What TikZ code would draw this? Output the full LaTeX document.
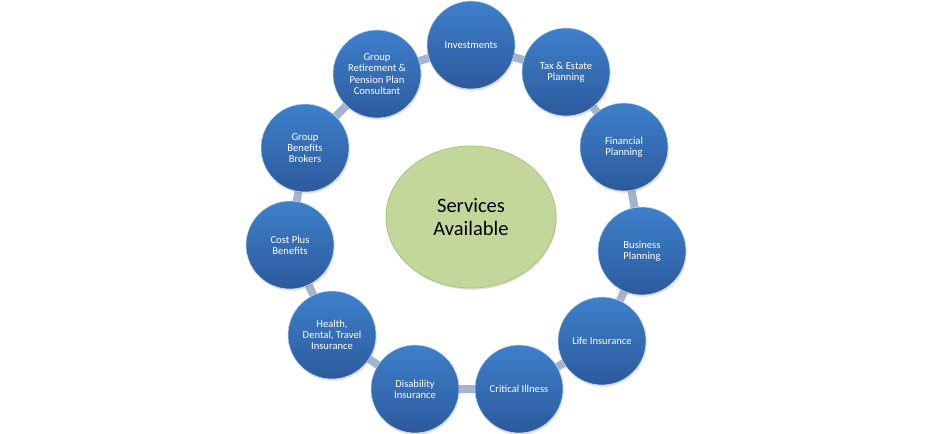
\documentclass[tikz,border=0pt]{standalone}
\usepackage{fontspec}
\setmainfont{Carlito}
\usetikzlibrary{shadows,shapes.geometric,backgrounds}
\definecolor{ringc}{RGB}{165,180,206}
\definecolor{btop}{RGB}{62,128,203}
\definecolor{bbot}{RGB}{44,90,156}
\definecolor{gfill}{RGB}{196,215,155}
\definecolor{gline}{RGB}{170,195,125}
\begin{document}
\begin{tikzpicture}[x=1pt,y=-1pt,
  svc/.style={circle, minimum size=88pt, inner sep=0pt, align=center, text=white,
    font=\fontsize{10.6}{11.2}\selectfont, top color=btop, bottom color=bbot,
    draw=white!70!btop, line width=0.6pt,
    drop shadow={opacity=0.22, shadow xshift=0.8pt, shadow yshift=-1.8pt}},
  hub/.style={ellipse, minimum width=170pt, minimum height=142pt, inner sep=0pt,
    align=center, fill=gfill, draw=gline, line width=0.8pt,
    font=\fontsize{20.5}{23}\selectfont,
    drop shadow={opacity=0.22, shadow xshift=0.8pt, shadow yshift=-1.8pt}},
  ring/.style={draw=ringc, line width=8pt}]
\useasboundingbox (0,0) rectangle (930,434);
\node[hub] (hub) at (471,217) {Services\\Available};
\node[svc] (inv) at (471,45) {Investments};
\node[svc] (tax) at (566,72) {Tax \& Estate\\Planning};
\node[svc] (fin) at (624,147) {Financial\\Planning};
\node[svc] (bus) at (642,251) {Business\\Planning};
\node[svc] (life) at (602,341) {Life Insurance};
\node[svc] (crit) at (519,389) {Critical Illness};
\node[svc] (dis) at (415,389) {Disability\\Insurance};
\node[svc] (hea) at (332,335) {Health,\\Dental, Travel\\Insurance};
\node[svc] (cost) at (290,245) {Cost Plus\\Benefits};
\node[svc] (gben) at (305,148) {Group\\Benefits\\Brokers};
\node[svc] (gret) at (377,74) {Group\\Retirement \&\\Pension Plan\\Consultant};
\begin{scope}[on background layer]
\fill[white] (0,0) rectangle (930,434);
\draw[ring] (inv.center) -- (tax.center) -- (fin.center) -- (bus.center)
  -- (life.center) -- (crit.center) -- (dis.center) -- (hea.center)
  -- (cost.center) -- (gben.center) -- (gret.center) -- cycle;
\end{scope}
\end{tikzpicture}
\end{document}
